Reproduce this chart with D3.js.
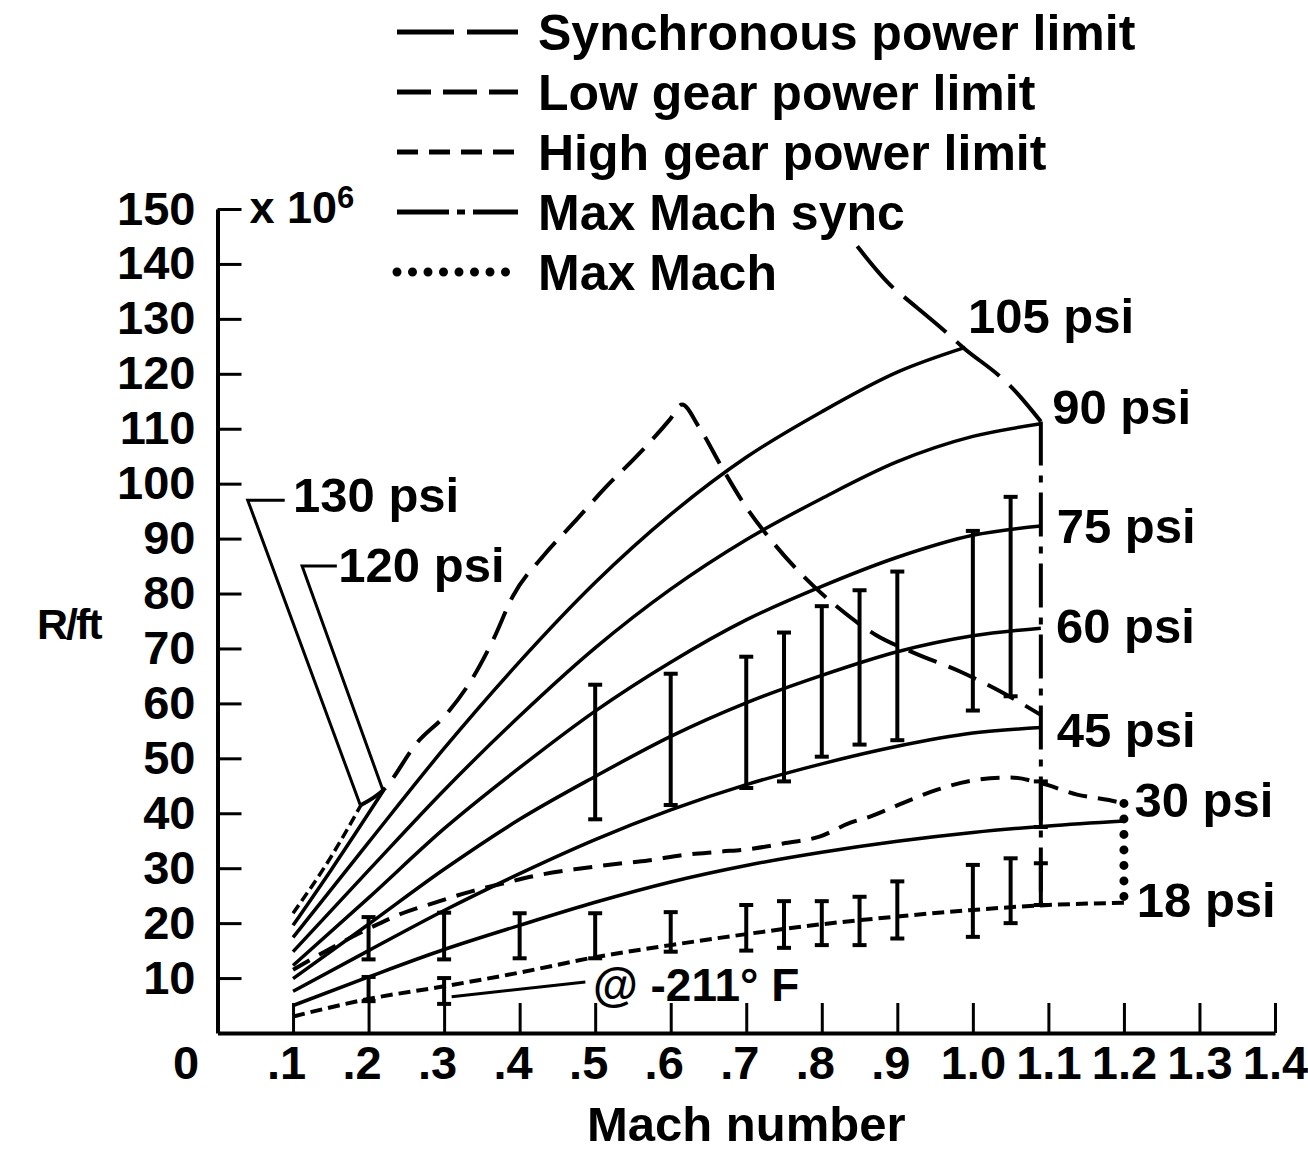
<!DOCTYPE html>
<html><head><meta charset="utf-8">
<script src="https://cdn.jsdelivr.net/npm/d3@7"></script>
<style>
html,body{margin:0;padding:0;background:#fff;}
svg{display:block;}
text{font-family:"Liberation Sans",Arial,Helvetica,sans-serif;font-weight:bold;fill:#000;}
</style></head><body>
<svg id="chart" width="1308" height="1153"></svg>
<script>
// ---------------- data ----------------
const machTicks = [0,0.1,0.2,0.3,0.4,0.5,0.6,0.7,0.8,0.9,1.0,1.1,1.2,1.3,1.4];
const machTickLabels = ["0",".1",".2",".3",".4",".5",".6",".7",".8",".9","1.0","1.1","1.2","1.3","1.4"];
const reTicks = [10,20,30,40,50,60,70,80,90,100,110,120,130,140,150];

// constant-pressure lines [Mach, R/ft x 1e6]
const psi130 = [[0.1,21.8],[0.15,32.0],[0.19,41.5]];
const psi120 = [[0.1,19.6],[0.15,29.6],[0.22,44.2]];
const psi105 = [[0.1,17.4],[0.2,34.7],[0.3,51.8],[0.4,67.6],[0.5,82.0],[0.6,94.4],[0.7,104.8],[0.8,113.1],[0.9,120.3],[0.99,124.8]];
const psi90  = [[0.1,14.8],[0.2,29.6],[0.3,44.2],[0.4,57.7],[0.5,70.1],[0.6,80.8],[0.7,89.8],[0.8,97.3],[0.9,104.0],[1.0,108.6],[1.09,110.9]];
const psi75  = [[0.1,12.3],[0.2,24.6],[0.3,37.2],[0.4,48.3],[0.5,58.6],[0.6,67.5],[0.7,75.2],[0.8,81.3],[0.9,86.6],[1.0,90.6],[1.09,92.3]];
const psi60  = [[0.1,9.9],[0.2,19.8],[0.3,29.8],[0.4,38.9],[0.5,46.7],[0.6,54.0],[0.7,60.1],[0.8,65.1],[0.9,69.4],[1.0,72.3],[1.09,73.7]];
const psi45  = [[0.1,7.6],[0.2,15.0],[0.3,22.3],[0.4,29.0],[0.5,35.2],[0.6,40.6],[0.7,45.2],[0.8,49.0],[0.9,52.2],[1.0,54.6],[1.09,55.6]];
const psi30  = [[0.1,5.0],[0.2,10.2],[0.3,15.2],[0.4,19.6],[0.5,23.8],[0.6,27.5],[0.7,30.5],[0.8,32.9],[0.9,34.9],[1.0,36.5],[1.1,37.7],[1.2,38.6]];
const psi18  = [[0.1,3.0],[0.2,6.2],[0.3,8.5],[0.4,11.0],[0.5,13.8],[0.6,16.0],[0.7,18.0],[0.8,19.8],[0.9,21.2],[1.0,22.4],[1.1,23.3],[1.2,23.7]];

// limit curves
const syncPowerLimit = [[0.847,143.2],[0.895,135.6],[0.908,134.1],[0.966,127.4],[0.987,124.8],[1.036,119.5],[1.05,117.7],[1.09,111.3]];
const lowGearPowerLimit = [[0.19,41.5],[0.22,44.3],[0.264,52.8],[0.304,58.2],[0.339,64.9],[0.365,71.6],[0.391,79.5],[0.431,86.8],[0.471,92.8],[0.515,99.5],[0.555,105.0],[0.599,111.7],[0.615,114.4],[0.637,110.4],[0.668,102.9],[0.699,95.9],[0.736,89.2],[0.776,83.1],[0.822,77.4],[0.871,72.5],[0.922,69.2],[0.983,65.8],[1.036,62.2],[1.09,57.9]];
const highGearPowerLimit = [[0.1,11.5],[0.2,19.0],[0.245,21.8],[0.287,23.7],[0.334,25.7],[0.38,27.3],[0.431,28.9],[0.478,29.9],[0.53,30.8],[0.57,31.4],[0.617,32.4],[0.664,33.0],[0.705,33.5],[0.749,34.5],[0.798,35.8],[0.838,38.3],[0.864,39.4],[0.908,41.9],[0.953,44.3],[1.006,46.1],[1.05,46.5],[1.09,45.5],[1.138,43.4],[1.18,42.4],[1.2,41.8]];
const maxMachSync = [[1.09,111.3],[1.09,23.3]];
const maxMach = [[1.2,41.8],[1.2,23.7]];

// error bars [Mach, low, high]
const bigBars = [[0.5,38.9,63.4],[0.6,41.5,65.4],[0.7,44.6,68.5],[0.75,45.8,72.9],[0.8,50.3,77.7],[0.85,52.5,80.6],[0.9,53.3,84.0],[1.0,58.7,91.4],[1.05,61.3,97.6]];
const smallBars = [[0.2,13.4,21.1],[0.3,13.4,21.9],[0.4,13.6,21.8],[0.5,13.6,21.8],[0.6,14.8,22.0],[0.7,15.0,23.3],[0.75,15.5,24.0],[0.8,16.0,24.0],[0.85,16.0,24.8],[0.9,17.2,27.6],[1.0,17.5,30.6],[1.05,20.0,31.8],[1.09,23.3,30.9],[1.09,37.5,45.8]];
const coldBars = [[0.2,5.8,10.2],[0.3,5.3,10.0]];

const legendNames = ["Synchronous power limit","Low gear power limit","High gear power limit","Max Mach sync","Max Mach"];
const psiLabels = ["130 psi","120 psi","105 psi","90 psi","75 psi","60 psi","45 psi","30 psi","18 psi"];

// ---------------- drawing ----------------
const svg = d3.select("#chart");
const x = d3.scaleLinear().domain([0,1.4]).range([217.5,1275]);
const y = d3.scaleLinear().domain([0,150]).range([1033,209]);

const styles = {
  solid:   {w:3.5, dash:null},
  sync:    {w:4, dash:"55,14"},
  low:     {w:4, dash:"30,13"},
  high:    {w:4, dash:"19,11"},
  cold:    {w:4, dash:"12,6"},
  dashdot: {w:4, dash:"44,10,7,10"},
  dot:     {w:9, dash:"0,15.5", cap:"round"}
};

const lineGen = d3.line().x(d=>x(d[0])).y(d=>y(d[1])).curve(d3.curveMonotoneX);
const straight = d3.line().x(d=>x(d[0])).y(d=>y(d[1]));

function drawSeries(data, st, gen){
  svg.append("path").datum(data)
    .attr("d", gen || lineGen)
    .attr("fill","none").attr("stroke","#000")
    .attr("stroke-width", st.w)
    .attr("stroke-dasharray", st.dash)
    .attr("stroke-linecap", st.cap || "butt")
    .attr("stroke-linejoin","round");
}

// axes
const xAxis = d3.axisBottom(x).tickValues(machTicks)
  .tickFormat((d,i)=>machTickLabels[i]).tickSizeInner(-30).tickSizeOuter(0).tickPadding(13);
const gx = svg.append("g").attr("transform",`translate(0,${y(0)})`).call(xAxis);
gx.select(".domain").attr("stroke-width",4);
gx.selectAll(".tick line").attr("stroke-width",3);
gx.selectAll(".tick").filter(d=>d===0).select("line").remove();
gx.selectAll(".tick text").attr("font-size",47).attr("fill","#000")
  .attr("dx",(d)=> d===0 ? -32 : (d<1 ? -7 : 0));

const yAxis = d3.axisLeft(y).tickValues(reTicks).tickSizeInner(-24).tickSizeOuter(0).tickPadding(22);
const gy = svg.append("g").attr("transform",`translate(${x(0)},0)`).call(yAxis);
gy.select(".domain").attr("stroke-width",4);
gy.selectAll(".tick line").attr("stroke-width",3);
gy.selectAll(".tick text").attr("font-size",47).attr("fill","#000");
gy.selectAll("text").attr("font-family",null).attr("font-weight",null);
gx.selectAll("text").attr("font-family",null).attr("font-weight",null);

// unit label
const unit = svg.append("text").attr("x", x(0)+32).attr("y", y(150)+14).attr("font-size",45);
unit.append("tspan").text("x 10");
unit.append("tspan").attr("font-size",31).attr("dy",-15).text("6");

svg.append("text").attr("x", 37).attr("y", y(75)+18).attr("font-size",43).attr("letter-spacing",-2).text("R/ft");
svg.append("text").attr("x", x(0.7)).attr("y", 1141).attr("text-anchor","middle").attr("font-size",49).text("Mach number");

// curves
[psi105,psi90,psi75,psi60,psi45,psi30,psi120].forEach(s=>drawSeries(s, styles.solid));
drawSeries(psi130, {w:3.5, dash:"10,5"});
drawSeries(psi18, styles.cold);
drawSeries(syncPowerLimit, styles.sync);
drawSeries(lowGearPowerLimit, styles.low);
drawSeries(highGearPowerLimit, styles.high);
drawSeries(maxMachSync, styles.dashdot, straight);
drawSeries(maxMach, styles.dot, straight);

// error bars
function drawBars(bars){
  const g = svg.append("g").attr("stroke","#000");
  bars.forEach(b=>{
    const cx = x(b[0]);
    g.append("line").attr("x1",cx).attr("x2",cx).attr("y1",y(b[1])).attr("y2",y(b[2])).attr("stroke-width",4);
    [b[1],b[2]].forEach(v=>{
      g.append("line").attr("x1",cx-7).attr("x2",cx+7).attr("y1",y(v)).attr("y2",y(v)).attr("stroke-width",4);
    });
  });
}
drawBars(bigBars); drawBars(smallBars); drawBars(coldBars);

// annotations (data coordinates)
const annot = [
  {t:psiLabels[0], m:0.100, r:94.8},
  {t:psiLabels[1], m:0.160, r:82.1},
  {t:psiLabels[2], m:0.9935, r:127.4},
  {t:psiLabels[3], m:1.105, r:110.9},
  {t:psiLabels[4], m:1.111, r:89.2},
  {t:psiLabels[5], m:1.110, r:71.0},
  {t:psiLabels[6], m:1.111, r:52.1},
  {t:psiLabels[7], m:1.214, r:39.3},
  {t:psiLabels[8], m:1.217, r:21.1}
];
annot.forEach(a=>svg.append("text").attr("x",x(a.m)).attr("y",y(a.r)).attr("font-size",49).text(a.t));
svg.append("text").attr("x",x(0.497)).attr("y",y(5.8)).attr("font-size",46).text("@ -211° F");

const leaders = [
  [[0.089,97.0],[0.040,97.0],[0.189,41.5]],
  [[0.158,85.0],[0.112,85.0],[0.219,44.2]],
  [[0.31,6.6],[0.487,9.3]]
];
leaders.forEach(l=>svg.append("path").datum(l).attr("d",straight).attr("fill","none").attr("stroke","#000").attr("stroke-width",3));

// legend
legendNames.forEach((n,i)=>{
  const by = 50 + i*60;
  svg.append("line").attr("x1",397).attr("x2",518).attr("y1",by-18).attr("y2",by-18)
    .attr("stroke","#000").attr("stroke-width", i===4 ? 9 : 5)
    .attr("stroke-dasharray", i===4 ? "0,15.5" : (i===0 ? "57,13" : i===1 ? "34,12" : i===2 ? "21,11" : "52,8,8,8"))
    .attr("stroke-linecap", i===4 ? "round" : "butt");
  svg.append("text").attr("x",538).attr("y",by).attr("font-size",50).text(n);
});
</script>
</body></html>
